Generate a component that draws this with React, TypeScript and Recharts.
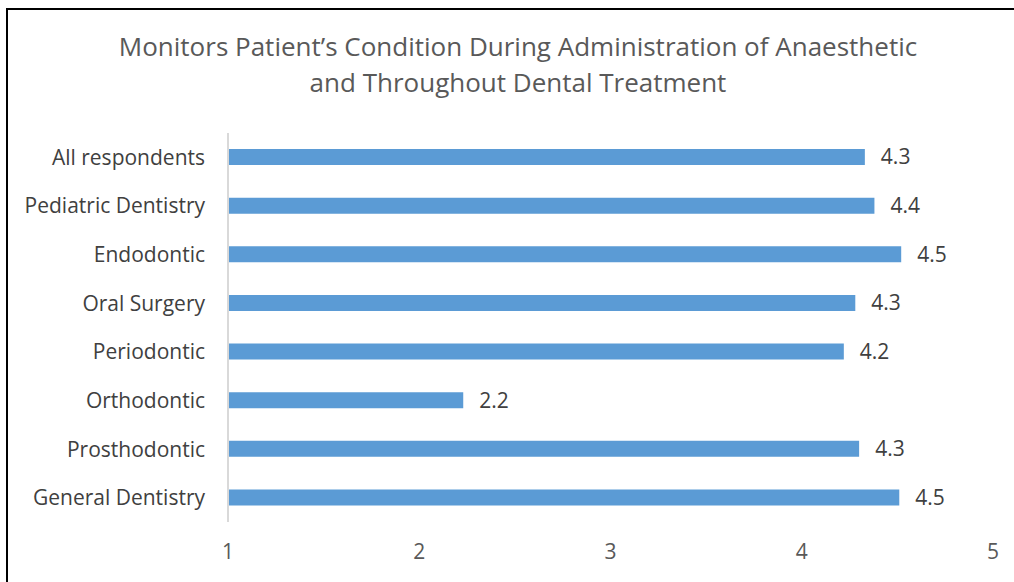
import { BarChart, Bar, XAxis, YAxis, LabelList } from "recharts";

const categories = [
  "All respondents",
  "Pediatric Dentistry",
  "Endodontic",
  "Oral Surgery",
  "Periodontic",
  "Orthodontic",
  "Prosthodontic",
  "General Dentistry",
];

const scores = [4.33, 4.38, 4.52, 4.28, 4.22, 2.23, 4.3, 4.51];

const xTicks = [1, 2, 3, 4, 5];

const data = categories.map((name, i) => ({ name, score: scores[i] }));

const FONT = "'Open Sans', Lato, sans-serif";

export default function App() {
  return (
    <div
      style={{
        position: "fixed",
        left: 0,
        top: 0,
        width: 1014,
        height: 582,
        background: "#fff",
        overflow: "hidden",
        fontFamily: FONT,
      }}
    >
      <div
        style={{
          position: "absolute",
          left: 6,
          top: 8,
          width: 1014,
          height: 600,
          borderLeft: "2px solid #000",
          borderTop: "2px solid #000",
          boxSizing: "border-box",
        }}
      />
      <div
        style={{
          position: "absolute",
          left: 0,
          top: 28,
          width: 1036,
          textAlign: "center",
          color: "#595959",
          fontSize: 26,
          lineHeight: "36px",
        }}
      >
        Monitors Patient’s Condition During Administration of Anaesthetic
        <br />
        and Throughout Dental Treatment
      </div>
      <div style={{ position: "absolute", left: 0, top: 0 }}>
        <BarChart
          width={1014}
          height={582}
          data={data}
          layout="vertical"
          margin={{ top: 133, right: 21, bottom: 0, left: 0 }}
        >
          <XAxis
            type="number"
            domain={[1, 5]}
            ticks={xTicks}
            allowDataOverflow
            axisLine={false}
            tickLine={false}
            height={60}
            tickMargin={16}
            tick={{ fill: "#595959", fontSize: 21, fontFamily: FONT }}
          />
          <YAxis
            type="category"
            dataKey="name"
            width={228}
            axisLine={{ stroke: "#d9d9d9", strokeWidth: 2 }}
            tickLine={false}
            tickMargin={17}
            interval={0}
            tick={{ fill: "#404040", fontSize: 21, fontFamily: FONT }}
          />
          <Bar
            dataKey="score"
            fill="#5b9bd5"
            barSize={16}
            isAnimationActive={false}
          >
            <LabelList
              dataKey="score"
              position="right"
              offset={16}
              formatter={(v: any) => Number(v).toFixed(1)}
              style={{ fill: "#404040", fontSize: 21, fontFamily: FONT }}
            />
          </Bar>
        </BarChart>
      </div>
    </div>
  );
}
